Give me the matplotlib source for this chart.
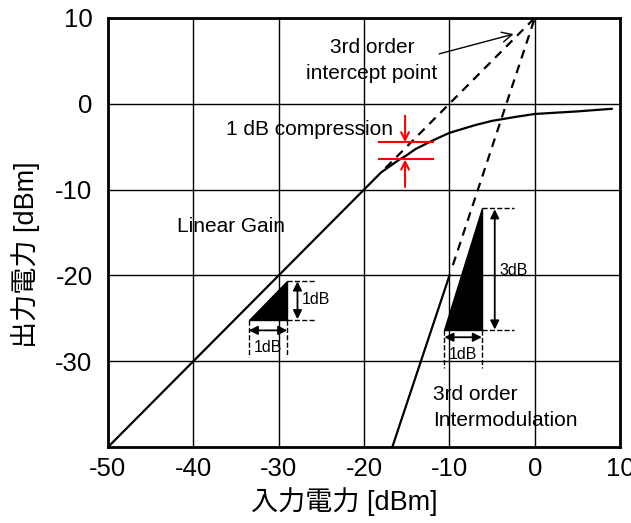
import numpy as np
import matplotlib.pyplot as plt

plt.rcParams['font.family'] = ['Liberation Sans', 'Noto Sans CJK JP']
plt.rcParams['axes.unicode_minus'] = False

# output curve of the amplifier (input dBm -> output dBm)
pin = [-50, -18, -16, -15, -14, -12, -10, -7, -5, -2, 0, 5, 9]
pout = [-40, -8, -6.6, -6.0, -5.3, -4.3, -3.4, -2.5, -2.0, -1.5, -1.2, -0.9, -0.6]

# linear extrapolation (dashed) and IM3 line
lin_dash_x = [-17.5, 0]
lin_dash_y = [-7.5, 10]
im3_solid_x = [-16.7, -10]
im3_solid_y = [-40, -20]
im3_dash_x = [-9.6, 0]
im3_dash_y = [-18.8, 10]

xticks = [-50, -40, -30, -20, -10, 0, 10]
yticks = [-30, -20, -10, 0, 10]

fig = plt.figure(figsize=(6.31, 5.23), dpi=100)
ax = fig.add_axes([0.171, 0.145, 0.812, 0.821])

ax.plot(pin, pout, color='black', lw=1.6)
ax.plot(lin_dash_x, lin_dash_y, color='black', lw=1.6, ls=(0, (4, 3)))
ax.plot(im3_solid_x, im3_solid_y, color='black', lw=1.6)
ax.plot(im3_dash_x, im3_dash_y, color='black', lw=1.6, ls=(0, (4, 3)))

arr = dict(arrowstyle='<|-|>', color='black', lw=1.3, mutation_scale=13,
           shrinkA=0, shrinkB=0)

# small triangle on the linear gain line
ax.fill([-33.5, -29, -29], [-25.2, -25.2, -20.6], color='black')
ax.plot([-29, -25.6], [-20.6, -20.6], 'k--', lw=1)
ax.plot([-29, -25.6], [-25.2, -25.2], 'k--', lw=1)
ax.plot([-33.5, -33.5], [-25.2, -29.5], 'k--', lw=1)
ax.plot([-29, -29], [-25.2, -29.5], 'k--', lw=1)
ax.annotate('', xy=(-27.8, -20.7), xytext=(-27.8, -25.1), arrowprops=arr)
ax.annotate('', xy=(-33.5, -26.4), xytext=(-29, -26.4), arrowprops=arr)
ax.text(-27.3, -22.8, '1dB', fontsize=11.5, va='center', ha='left')
ax.text(-31.3, -28.4, '1dB', fontsize=11.5, va='center', ha='center')

# triangle on the IM3 line
ax.fill([-10.6, -6.2, -6.2], [-26.4, -26.4, -12.2], color='black')
ax.plot([-6.2, -2.4], [-12.2, -12.2], 'k--', lw=1)
ax.plot([-6.2, -2.4], [-26.4, -26.4], 'k--', lw=1)
ax.plot([-10.6, -10.6], [-26.4, -30.8], 'k--', lw=1)
ax.plot([-6.2, -6.2], [-26.4, -30.8], 'k--', lw=1)
ax.annotate('', xy=(-4.7, -12.3), xytext=(-4.7, -26.3), arrowprops=arr)
ax.annotate('', xy=(-10.6, -27.2), xytext=(-6.2, -27.2), arrowprops=arr)
ax.text(-4.1, -19.4, '3dB', fontsize=11.5, va='center', ha='left')
ax.text(-8.4, -29.2, '1dB', fontsize=11.5, va='center', ha='center')

# 1 dB compression marker
red = '#ff0000'
ax.plot([-18.3, -11.9], [-4.5, -4.5], color=red, lw=1.5)
ax.plot([-18.3, -11.9], [-6.5, -6.5], color=red, lw=1.5)
ax.annotate('', xy=(-15.2, -4.5), xytext=(-15.2, -1.4),
            arrowprops=dict(arrowstyle='->', color=red, lw=1.5, mutation_scale=14,
                            shrinkA=0, shrinkB=0))
ax.annotate('', xy=(-15.2, -6.5), xytext=(-15.2, -9.7),
            arrowprops=dict(arrowstyle='->', color=red, lw=1.5, mutation_scale=14,
                            shrinkA=0, shrinkB=0))

# labels
ax.text(-36.2, -3.0, '1 dB compression', fontsize=15, va='center', ha='left')
ax.text(-41.9, -14.3, 'Linear Gain', fontsize=15, va='center', ha='left')
ax.text(-19.1, 5.0, '3rd order\nintercept point', fontsize=15, va='center',
        ha='center', linespacing=1.45)
ax.text(-11.9, -35.4, '3rd order\nIntermodulation', fontsize=15, va='center',
        ha='left', linespacing=1.45)
ax.annotate('', xy=(-2.5, 8.1), xytext=(-11.2, 5.8),
            arrowprops=dict(arrowstyle='->', color='black', lw=1, mutation_scale=18,
                            shrinkA=0, shrinkB=0))

ax.set_xlim(-50, 10)
ax.set_ylim(-40, 10)
ax.set_xticks(xticks)
ax.set_yticks(yticks)
ax.tick_params(length=0, labelsize=18.5)
ax.tick_params(axis='y', pad=11)
ax.tick_params(axis='x', pad=7)
ax.grid(True, color='black', lw=1)
for s in ax.spines.values():
    s.set_linewidth(2)
ax.set_xlabel('入力電力 [dBm]', fontsize=19.5)
ax.set_ylabel('出力電力 [dBm]', fontsize=19.5)
ax.xaxis.set_label_coords(0.461, -0.093)
ax.yaxis.set_label_coords(-0.132, 0.448)

fig.savefig('out.png', dpi=100)
